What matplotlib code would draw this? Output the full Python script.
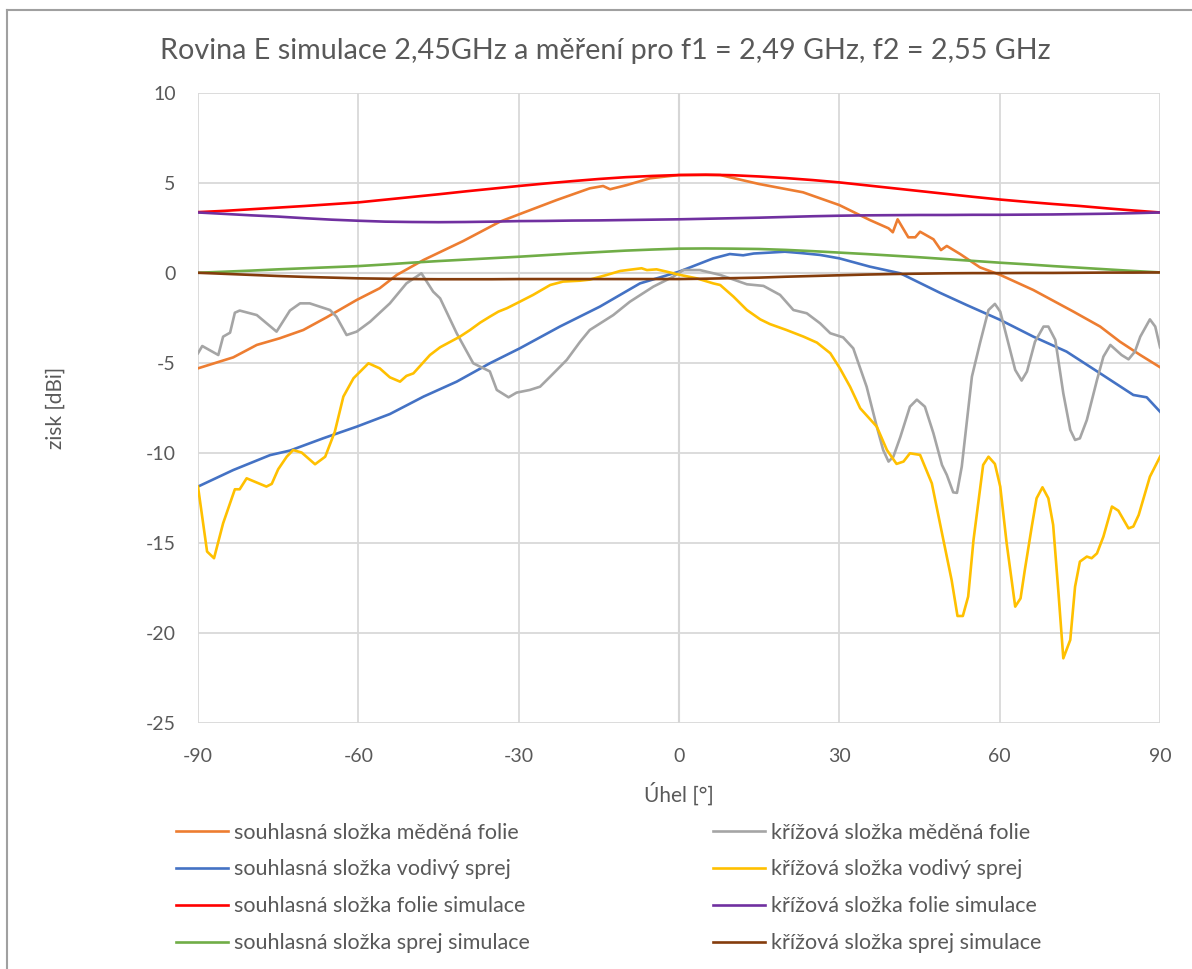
import numpy as np
import matplotlib.pyplot as plt
from matplotlib.lines import Line2D

plt.rcParams['font.family'] = ['Lato', 'DejaVu Sans']
plt.rcParams['axes.unicode_minus'] = False

# simulace (krok 5 stupnu)
uhel_sim = list(range(-90, 91, 5))
folie_sim_souhl = [3.40, 3.47, 3.56, 3.65, 3.74, 3.84, 3.94, 4.09, 4.24, 4.39, 4.55, 4.70, 4.85,
                   4.99, 5.12, 5.24, 5.34, 5.41, 5.46, 5.48, 5.45, 5.38, 5.29, 5.18, 5.05, 4.89,
                   4.73, 4.57, 4.41, 4.25, 4.10, 3.97, 3.85, 3.74, 3.61, 3.49, 3.38]
folie_sim_kriz = [3.38, 3.30, 3.22, 3.15, 3.06, 2.98, 2.92, 2.87, 2.85, 2.84, 2.85, 2.87, 2.90,
                  2.91, 2.93, 2.94, 2.96, 2.98, 3.00, 3.03, 3.06, 3.09, 3.13, 3.17, 3.20, 3.22,
                  3.23, 3.24, 3.24, 3.25, 3.25, 3.26, 3.27, 3.29, 3.31, 3.34, 3.38]
sprej_sim_souhl = [0.03, 0.09, 0.15, 0.22, 0.28, 0.34, 0.40, 0.49, 0.59, 0.68, 0.76, 0.84, 0.92,
                   1.01, 1.10, 1.18, 1.26, 1.32, 1.37, 1.38, 1.37, 1.35, 1.30, 1.23, 1.15, 1.07,
                   0.98, 0.89, 0.79, 0.69, 0.59, 0.50, 0.40, 0.31, 0.22, 0.13, 0.05]
sprej_sim_kriz = [0.03, -0.03, -0.09, -0.15, -0.20, -0.24, -0.28, -0.30, -0.32, -0.33, -0.33, -0.33, -0.32,
                  -0.32, -0.32, -0.32, -0.32, -0.32, -0.32, -0.30, -0.27, -0.24, -0.19, -0.15, -0.11, -0.07,
                  -0.04, -0.02, 0.00, 0.01, 0.01, 0.02, 0.02, 0.03, 0.04, 0.04, 0.05]

# mereni - souhlasna slozka medena folie
uhel_mf = [-90, -83.4, -79, -74.7, -70.3, -65.9, -60.3, -56, -52.8, -47.8, -40.4, -33.5, -29.1,
           -22.9, -16.7, -14.2, -12.9, -9.8, -5.4, 0, 7.7, 15, 23.2, 30, 35.7, 39.2, 40, 40.9,
           42.9, 44.2, 45.1, 47.6, 49, 50.1, 52.6, 56.3, 60.1, 66.3, 73.8, 78.8, 82.5, 86.3, 90]
souhl_mf = [-5.28, -4.67, -3.98, -3.61, -3.15, -2.44, -1.48, -0.83, -0.09, 0.74, 1.79, 2.87, 3.37,
            4.07, 4.72, 4.85, 4.67, 4.90, 5.28, 5.46, 5.46, 4.96, 4.50, 3.79, 2.96, 2.50, 2.28, 3.00,
            2.00, 2.00, 2.31, 1.89, 1.29, 1.52, 1.07, 0.33, -0.09, -0.93, -2.13, -2.96, -3.80, -4.54, -5.22]

# mereni - souhlasna slozka vodivy sprej
uhel_vs = [-90, -83.4, -76.5, -72.8, -66.6, -60.3, -54.1, -47.8, -41.6, -35.4, -29.8, -22.3, -14.8,
           -7.3, 0, 6.4, 9.5, 12, 14, 17, 19.8, 23, 26.4, 30, 35.7, 41.4, 48.8, 53.8, 60.1, 66.3, 72.5,
           78.8, 85, 87.5, 90]
souhl_vs = [-11.85, -10.93, -10.10, -9.85, -9.17, -8.52, -7.82, -6.85, -6.02, -5.00, -4.17, -2.96, -1.85,
            -0.56, 0.09, 0.83, 1.07, 1.00, 1.10, 1.15, 1.20, 1.12, 1.02, 0.83, 0.37, 0.00, -1.08, -1.76,
            -2.59, -3.52, -4.35, -5.56, -6.76, -6.89, -7.69]

# mereni - krizova slozka medena folie
uhel_kmf = [-90, -89.2, -86.2, -85.3, -84, -83.1, -82.2, -79, -75.3, -72.8, -70.9, -69.1, -65.3, -64.1,
            -62.2, -60.3, -57.8, -54.1, -51, -48.2, -46, -44.7, -41.6, -38.5, -35.4, -34.1, -31.9,
            -30.4, -27.9, -26, -24.1, -21, -18.5, -16.7, -12.3, -9.2, -4.8, -1.1, 0.8, 3.9, 7.7,
            12.7, 15.8, 18.9, 21.4, 23.9, 26.4, 28.3, 30.7, 32.6, 35.1, 37, 38.2, 39.2, 40.1, 41.4,
            43.2, 44.5, 46, 47.6, 49.2, 50.1, 51.3, 52, 52.9, 54.8, 56.3, 57.9, 59.1, 60.1, 61.3,
            62.9, 64.1, 65.1, 66.6, 68.2, 69.1, 70.4, 71.9, 73.2, 74.1, 75, 76.3, 78.2, 79.4, 80.7,
            82.8, 84.1, 85.3, 86.3, 88.1, 89.1, 90]
kriz_mf = [-4.44, -4.04, -4.54, -3.52, -3.30, -2.19, -2.07, -2.32, -3.24, -2.07, -1.67, -1.67, -2.04, -2.41,
           -3.43, -3.24, -2.69, -1.67, -0.56, 0.00, -1.02, -1.39, -3.33, -5.00, -5.45, -6.48, -6.89,
           -6.63, -6.48, -6.30, -5.74, -4.81, -3.80, -3.15, -2.32, -1.58, -0.74, -0.19, 0.18, 0.18, -0.09,
           -0.61, -0.70, -1.20, -2.04, -2.22, -2.78, -3.33, -3.56, -4.17, -6.30, -8.52, -9.82, -10.46, -10.19, -9.10,
           -7.41, -7.02, -7.41, -8.89, -10.65, -11.20, -12.17, -12.20, -10.74, -5.74, -3.89, -2.04, -1.70, -2.13, -3.52,
           -5.37, -5.96, -5.46, -3.80, -2.96, -2.96, -3.70, -6.67, -8.70, -9.26, -9.17, -8.15, -5.93, -4.63, -3.98,
           -4.54, -4.78, -4.35, -3.52, -2.56, -2.96, -4.11]

# mereni - krizova slozka vodivy sprej
uhel_kvs = [-90, -88.3, -87, -85.3, -83.1, -82.2, -80.9, -77.2, -76.2, -75, -73.4, -72.2, -70.6, -68.1,
            -66.2, -64.4, -62.8, -60.9, -58.1, -56, -54.1, -52.2, -51, -49.7, -46.6, -44.7, -41, -39.1,
            -37.2, -35.4, -33.8, -32.2, -29.8, -27.3, -24.1, -21.7, -18.5, -16.7, -13.5, -11, -8.6, -7,
            -6, -4.2, -2.3, 0.2, 3.3, 6.4, 7.7, 10.2, 12.7, 15.2, 17, 20.1, 23.3, 25.8, 28.3, 30.1, 32,
            33.9, 37, 38.9, 40.7, 42, 43.2, 45.1, 47.3, 49.2, 51, 52.1, 53.1, 54.1, 55.1, 56.9, 57.9,
            59.1, 60.1, 61.3, 62.9, 63.9, 64.7, 66, 66.9, 68, 69.1, 70, 71, 71.9, 73.2, 74.1, 75, 76.3,
            77.2, 78.2, 79.4, 81, 82.2, 84.1, 85, 86, 88.1, 90]
kriz_vs = [-11.85, -15.46, -15.83, -13.89, -12.00, -12.00, -11.39, -11.85, -11.70, -10.89, -10.19, -9.82, -9.96, -10.61,
           -10.19, -8.80, -6.85, -5.83, -5.00, -5.28, -5.78, -6.02, -5.70, -5.56, -4.54, -4.11, -3.52, -3.15,
           -2.74, -2.41, -2.13, -1.94, -1.58, -1.20, -0.65, -0.46, -0.41, -0.35, -0.09, 0.13, 0.22, 0.28,
           0.18, 0.22, 0.09, -0.09, -0.28, -0.56, -0.65, -1.30, -2.04, -2.56, -2.82, -3.15, -3.52, -3.85, -4.44, -5.28, -6.30,
           -7.50, -8.52, -9.82, -10.59, -10.46, -10.00, -10.09, -11.67, -14.44, -17.04, -19.04, -19.04, -17.96, -14.81, -10.65, -10.19,
           -10.59, -11.85, -15.00, -18.52, -18.06, -16.48, -14.07, -12.50, -11.89, -12.50, -13.98, -17.78, -21.39, -20.37, -17.41, -16.02, -15.74,
           -15.83, -15.56, -14.63, -12.96, -13.19, -14.17, -14.07, -13.43, -11.30, -10.19]

text_color = '#595959'

fig = plt.figure(figsize=(11.92, 9.69), dpi=100)
ax = fig.add_axes([0.1661, 0.2536, 0.8071, 0.6501])

lw = 1.9
# nejprve souhlasne slozky (1. sloupec legendy), pak krizove (2. sloupec)
ax.plot(uhel_mf, souhl_mf, color='#ED7D31', lw=lw, label='souhlasná složka měděná folie', zorder=3)
ax.plot(uhel_vs, souhl_vs, color='#4472C4', lw=lw, label='souhlasná složka vodivý sprej', zorder=3)
ax.plot(uhel_sim, folie_sim_souhl, color='#FF0000', lw=lw, label='souhlasná složka folie simulace', zorder=3)
ax.plot(uhel_sim, sprej_sim_souhl, color='#70AD47', lw=lw, label='souhlasná složka sprej simulace', zorder=3)
ax.plot(uhel_kmf, kriz_mf, color='#A5A5A5', lw=lw, label='křížová složka měděná folie', zorder=3)
ax.plot(uhel_kvs, kriz_vs, color='#FFC000', lw=lw, label='křížová složka vodivý sprej', zorder=3)
ax.plot(uhel_sim, folie_sim_kriz, color='#7030A0', lw=lw, label='křížová složka folie simulace', zorder=3)
ax.plot(uhel_sim, sprej_sim_kriz, color='#843C0C', lw=lw, label='křížová složka sprej simulace', zorder=3)

ax.set_xlim(-90, 90)
ax.set_ylim(-25, 10)
ax.set_xticks(np.arange(-90, 91, 30))
ax.set_yticks(np.arange(-25, 11, 5))
ax.grid(True, color='#D9D9D9', lw=1.3, zorder=0)
ax.axhline(0, color='#BFBFBF', lw=1.5, zorder=1)
ax.axvline(0, color='#BFBFBF', lw=1.5, zorder=1)
for s in ax.spines.values():
    s.set_visible(False)
ax.tick_params(length=0, labelsize=14, colors=text_color)
ax.tick_params(axis='x', pad=18)
ax.tick_params(axis='y', pad=16)

ax.set_xlabel('Úhel [°]', fontsize=15, color=text_color, labelpad=12)
ax.set_ylabel('zisk [dBi]', fontsize=15, color=text_color, labelpad=58)
fig.text(0.508, 0.947, 'Rovina E simulace 2,45GHz a měření pro f1 = 2,49 GHz, f2 = 2,55 GHz',
         ha='center', va='center', fontsize=20.7, color=text_color)

# legenda ve dvou sloupcich
handles, labels = ax.get_legend_handles_labels()
leg = fig.legend(handles, labels, loc='upper left', bbox_to_anchor=(0.131, 0.171), ncol=2,
                 frameon=False, fontsize=15.5, handlelength=2.45, handletextpad=0.25,
                 columnspacing=8.5, labelspacing=0.78, labelcolor=text_color)

# okraj grafu
fig.add_artist(Line2D([0.006, 1.0], [0.9895, 0.9895], color='#A0A0A0', lw=1.5, transform=fig.transFigure))
fig.add_artist(Line2D([0.006, 0.006], [0.0, 0.9895], color='#A0A0A0', lw=1.5, transform=fig.transFigure))

fig.savefig('out.png', dpi=100)
